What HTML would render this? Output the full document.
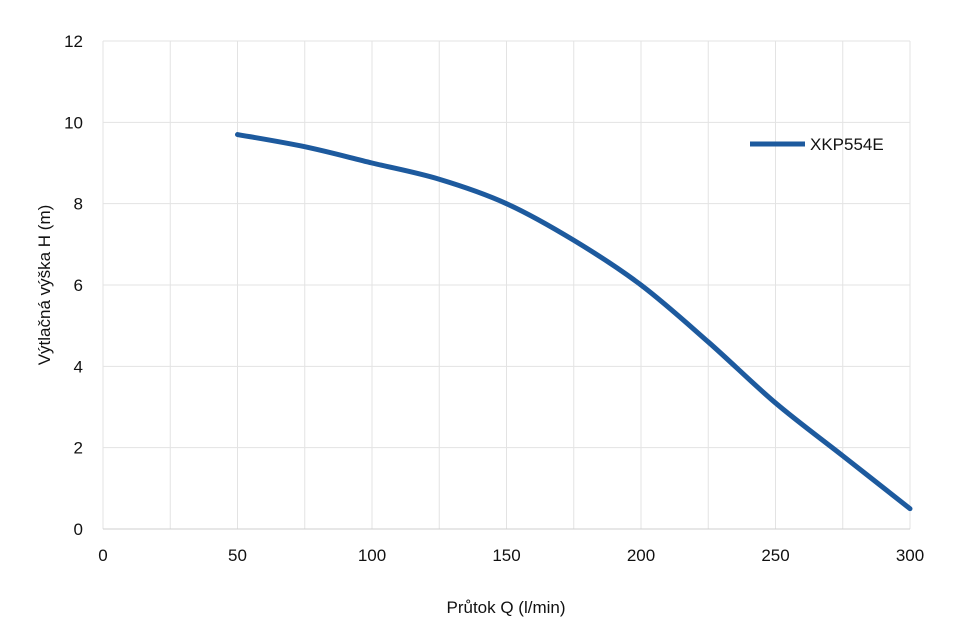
<!DOCTYPE html>
<html><head><meta charset="utf-8"><style>
html,body{margin:0;padding:0;background:#fff;}
svg{display:block;font-family:"Liberation Sans",sans-serif;}
</style></head><body>
<svg id="chart" width="962" height="635">
<rect width="962" height="635" fill="#fff"/>
<g id="grid"></g>
<g id="ticks"></g>
<g id="series"></g>
<text x="506" y="613" font-size="17" text-anchor="middle" fill="#111">Průtok Q (l/min)</text>
<text x="0" y="0" font-size="17" text-anchor="middle" fill="#111" transform="translate(50,285) rotate(-90)">Výtlačná výška H (m)</text>
<g>
<line x1="750" y1="144" x2="805" y2="144" stroke="#1d5a9e" stroke-width="5"/>
<text x="810" y="150" font-size="17" fill="#111">XKP554E</text>
</g>
</svg>
<script>
const flowValues=[50,75,100,125,150,175,200,225,250,275,300];
const headValues=[9.7,9.4,9.0,8.6,8.0,7.1,6.0,4.6,3.1,1.8,0.5];
const xTickLabels=[0,50,100,150,200,250,300];
const yTickLabels=[0,2,4,6,8,10,12];
const xGridValues=[0,25,50,75,100,125,150,175,200,225,250,275,300];
const NS="http://www.w3.org/2000/svg";
const X0=103,X1=910,Y0=529,Y1=41;
function xs(v){return X0+(v-0)/(300-0)*(X1-X0);}
function ys(v){return Y0-(v-0)/(12-0)*(Y0-Y1);}
function mk(tag,attrs,parent){const e=document.createElementNS(NS,tag);for(const k in attrs)e.setAttribute(k,attrs[k]);parent.appendChild(e);return e;}
const grid=document.getElementById('grid'),ticks=document.getElementById('ticks'),series=document.getElementById('series');
xGridValues.forEach(v=>{const l=mk('line',{x1:xs(v),x2:xs(v),y1:Y1,y2:Y0,stroke:'#e3e3e3','stroke-width':1},grid);

});
yTickLabels.forEach(v=>{const l=mk('line',{x1:X0,x2:X1,y1:ys(v),y2:ys(v),stroke:v===0?'#cfcfcf':'#e3e3e3','stroke-width':1},grid);


const t=mk('text',{x:83,y:ys(v)+6,'font-size':17,'text-anchor':'end',fill:'#111'},ticks);t.textContent=v;

});
xTickLabels.forEach(v=>{const t=mk('text',{x:xs(v),y:561,'font-size':17,'text-anchor':'middle',fill:'#111'},ticks);t.textContent=v;

});
const pts=flowValues.map((f,i)=>[xs(f),ys(headValues[i])]);
let d='M'+pts[0][0]+','+pts[0][1];
for(let i=0;i<pts.length-1;i++){const p0=pts[Math.max(0,i-1)],p1=pts[i],p2=pts[i+1],p3=pts[Math.min(pts.length-1,i+2)];
const c1=[p1[0]+(p2[0]-p0[0])/6,p1[1]+(p2[1]-p0[1])/6],c2=[p2[0]-(p3[0]-p1[0])/6,p2[1]-(p3[1]-p1[1])/6];
d+=' C'+c1+' '+c2+' '+p2;}
const path=mk('path',{d:d,fill:'none',stroke:'#1d5a9e','stroke-width':5,'stroke-linecap':'round'},series);


</script>
</body></html>
